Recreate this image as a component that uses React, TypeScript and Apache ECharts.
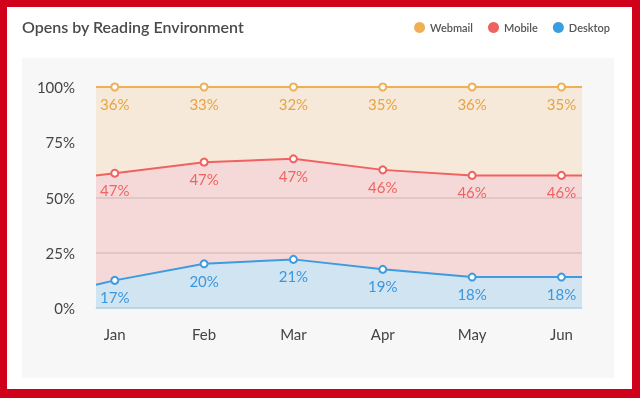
import React, { useEffect, useRef } from "react";
import * as echarts from "echarts";

const months = ["Jan", "Feb", "Mar", "Apr", "May", "Jun"];
// positions of the lines as drawn (stack shares)
const desktopPlot = [12.5, 20, 22, 17.5, 14, 14];
const mobilePlot = [48.5, 46, 45.5, 45, 46, 46];
const webmailPlot = [39, 34, 32.5, 37.5, 40, 40];
// printed data labels
const desktopLabels = [17, 20, 21, 19, 18, 18];
const mobileLabels = [47, 47, 47, 46, 46, 46];
const webmailLabels = [36, 33, 32, 35, 36, 35];
// where the lines meet the left / right plot edges
const desktopEdges = [10.5, 14];
const mobileEdges = [49.5, 46];
const webmailEdges = [40, 40];
const yTicks = [0, 25, 50, 75, 100];

const X_MIN = -0.21;
const X_MAX = 5.23;
const FONT = "Lato";

function buildSeries(
  name: string,
  plot: number[],
  edges: number[],
  labels: number[],
  color: string,
  labelColor: string,
  area: any,
  z: number
) {
  // data stored as [value, position] so the stack applies to the value
  const data: any[] = [
    { value: [edges[0], X_MIN], symbol: "none", label: { show: false } },
    ...plot.map((v, i) => ({ value: [v, i] })),
    { value: [edges[1], X_MAX], symbol: "none", label: { show: false } },
  ];
  return {
    name,
    type: "line",
    stack: "total",
    encode: { x: 1, y: 0 },
    data,
    z,
    symbol: "emptyCircle",
    symbolSize: 7,
    showAllSymbol: true,
    lineStyle: { color, width: 2 },
    itemStyle: { color, borderWidth: 2 },
    areaStyle: area,
    label: {
      show: true,
      position: "bottom",
      distance: 5,
      color: labelColor,
      fontSize: 15,
      fontFamily: FONT,
      formatter: (p: any) =>
        p.dataIndex > 0 && p.dataIndex <= labels.length
          ? labels[p.dataIndex - 1] + "%"
          : "",
    },
    emphasis: { disabled: true },
  };
}

export default function App() {
  const ref = useRef<HTMLDivElement>(null);
  useEffect(() => {
    if (!ref.current) return;
    const chart = echarts.init(ref.current, undefined, { renderer: "svg" });
    const option: any = {
      animation: false,
      graphic: [
        { type: "rect", z: -10, shape: { x: 0, y: 0, width: 640, height: 398 }, style: { fill: "#d0021b" } },
        { type: "rect", z: -9, shape: { x: 7, y: 7, width: 625, height: 382 }, style: { fill: "#ffffff" } },
        { type: "rect", z: -8, shape: { x: 22, y: 58, width: 592, height: 320 }, style: { fill: "#f7f7f7" } },
      ],
      title: {
        text: "Opens by Reading Environment",
        left: 17,
        top: 13,
        textStyle: { fontFamily: FONT, fontSize: 16, fontWeight: 600, color: "#4a4a4a" },
      },
      legend: {
        data: ["Webmail", "Mobile", "Desktop"],
        right: 25,
        top: 17,
        icon: "circle",
        itemWidth: 11,
        itemHeight: 11,
        itemGap: 15,
        textStyle: { fontFamily: FONT, fontSize: 11, fontWeight: 600, color: "#555555" },
      },
      grid: { left: 96, top: 87, width: 486, height: 221, containLabel: false },
      xAxis: {
        type: "value",
        min: X_MIN,
        max: X_MAX,
        axisLine: { show: true, lineStyle: { color: "#c4d6e6", width: 1 } },
        axisTick: { show: false },
        splitLine: { show: false },
        axisLabel: {
          customValues: [0, 1, 2, 3, 4, 5],
          formatter: (v: number) => months[Math.round(v)] ?? "",
          margin: 18,
          color: "#444444",
          fontSize: 15,
          fontFamily: FONT,
        },
      },
      yAxis: {
        type: "value",
        min: yTicks[0],
        max: yTicks[yTicks.length - 1],
        interval: 25,
        axisLine: { show: false },
        axisTick: { show: false },
        splitLine: { show: true, lineStyle: { color: "#d9d9d9", width: 1.5 } },
        axisLabel: {
          formatter: "{value}%",
          margin: 21,
          color: "#444444",
          fontSize: 15,
          fontFamily: FONT,
        },
      },
      series: [
        buildSeries("Desktop", desktopPlot, desktopEdges, desktopLabels, "#3d9be0", "#3a97de", { color: "#3d9be0", opacity: 0.2 }, 4),
        buildSeries("Mobile", mobilePlot, mobileEdges, mobileLabels, "#f0625f", "#ef6461", { color: "#f0625f", opacity: 0.2 }, 3),
        buildSeries("Webmail", webmailPlot, webmailEdges, webmailLabels, "#efb055", "#e8a440", { color: "#f6e9d9", opacity: 1 }, 2),
      ],
    };
    chart.setOption(option);
    return () => chart.dispose();
  }, []);
  return (
    <div
      ref={ref}
      style={{ position: "fixed", left: 0, top: 0, width: 640, height: 398 }}
    />
  );
}
